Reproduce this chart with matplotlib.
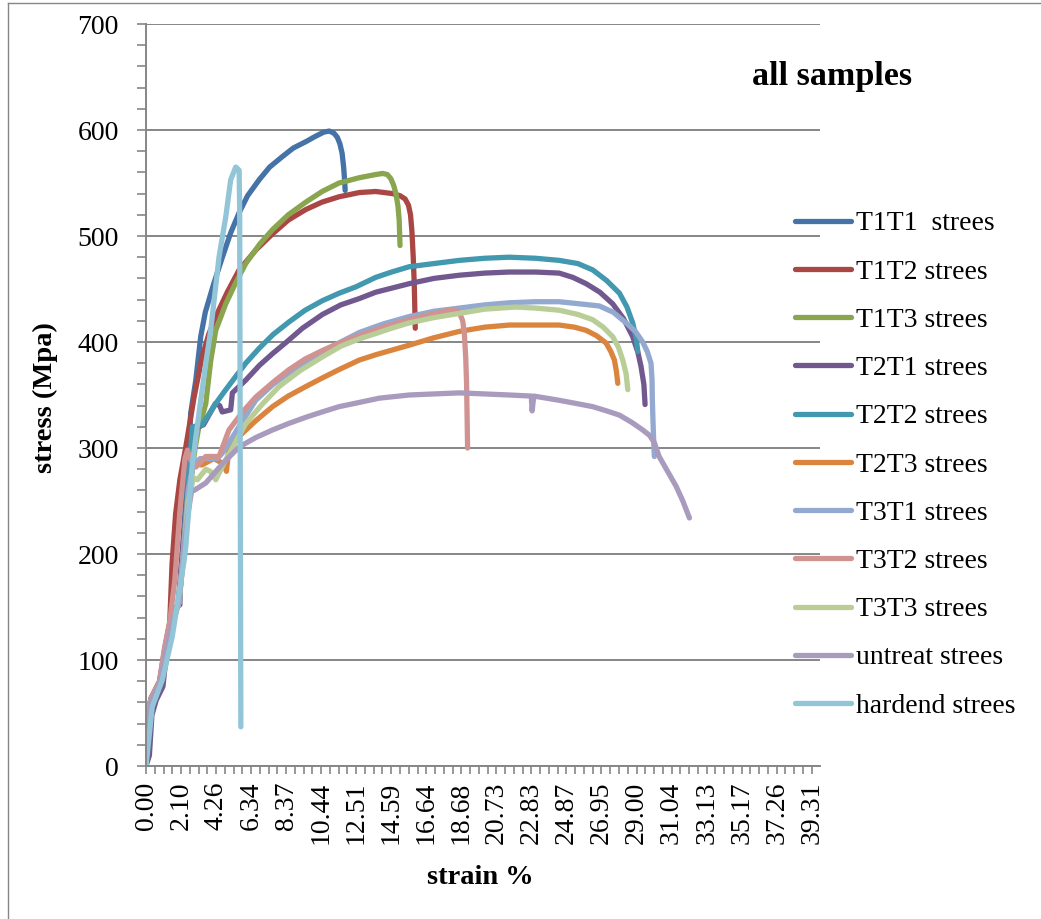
import numpy as np
import matplotlib.pyplot as plt
from matplotlib.lines import Line2D
from matplotlib.ticker import MultipleLocator, FixedLocator

plt.rcParams['font.family'] = ['Liberation Serif', 'DejaVu Serif']

# strain (%) / stress (MPa) readings for each sample
t1t1_strain = [0, 0.1, 0.3, 0.8, 1.2, 1.5, 1.9, 2.1, 2.3, 2.5, 2.64, 2.94, 3.23, 3.5, 4.0, 4.51, 5.0, 5.5,
               6.0, 6.68, 7.3, 8.06, 8.7, 9.44, 10.0, 10.5, 10.82, 11.1, 11.3, 11.45, 11.58, 11.67,
               11.73, 11.76]
t1t1_stress = [0, 45, 62, 78, 110, 130, 155, 190, 240, 290, 333, 364, 405, 428, 455, 480, 503, 522,
               538, 553, 565, 575, 583, 589, 594, 598, 599, 597, 593, 587, 578, 565,
               552, 543]

t1t2_strain = [0, 0.1, 0.3, 0.8, 1.1, 1.4, 1.54, 1.75, 2.0, 2.35, 2.84, 3.3, 3.7, 4.12, 4.8, 5.5, 6.5,
               7.47, 8.4, 9.44, 10.4, 11.4, 12.6, 13.57, 14.56, 15.0, 15.3, 15.5, 15.62, 15.7, 15.78,
               15.84, 15.9]
t1t2_stress = [0, 50, 64, 80, 110, 135, 191, 238, 270, 301, 348, 385, 407, 424, 447, 468, 487,
               502, 515, 525, 532, 537, 541, 542, 540, 538, 535, 529, 520, 505, 480,
               455, 413]

t1t3_strain = [0, 0.1, 0.3, 0.8, 1.2, 1.5, 1.95, 2.2, 2.5, 2.9, 3.1, 3.33, 3.53, 3.82, 4.12, 4.71, 5.3,
               5.89, 6.7, 7.47, 8.4, 9.44, 10.4, 11.4, 12.6, 13.57, 13.97, 14.25, 14.46, 14.62, 14.76,
               14.88, 14.95, 15.0]
t1t3_stress = [0, 48, 63, 78, 112, 133, 155, 195, 250, 300, 318, 330, 342, 382, 411, 436, 456,
               474, 492, 506, 520, 532, 542, 550, 555, 558, 559, 558, 554, 548, 540,
               528, 515, 491]

t2t1_strain = [0, 0.2, 0.35, 0.6, 1.0, 1.1, 1.4, 1.8, 2.0, 2.05, 2.3, 2.6, 2.8, 3.4, 4.1, 4.35, 4.5, 5.0,
               5.1, 5.89, 6.7, 7.47, 8.3, 9.24, 10.42, 11.5, 12.6, 13.57, 15.54, 17.0, 18.5, 20.0,
               21.45, 23.0, 24.4, 25.2, 25.99, 26.8, 27.56, 28.2, 28.74, 29.05, 29.23, 29.4, 29.47]
t2t1_stress = [0, 10, 48, 62, 75, 90, 120, 150, 152, 185, 230, 280, 318, 322, 342, 340, 334, 336,
               352, 364, 378, 389, 400, 413, 426, 435, 441, 447, 455, 460, 463, 465,
               466, 466, 465, 461, 455, 447, 436, 422, 405, 390, 377, 360, 341]

t2t2_strain = [0, 0.1, 0.3, 0.8, 1.2, 1.5, 1.95, 2.2, 2.5, 2.74, 3.33, 4.12, 4.71, 5.89, 6.68, 7.5,
               8.45, 9.4, 10.42, 11.4, 12.39, 13.57, 14.5, 15.54, 17.0, 18.5, 20.0, 21.45, 23.0,
               24.4, 25.5, 26.38, 27.2, 27.96, 28.4, 28.74, 28.95, 29.04]
t2t2_stress = [0, 47, 63, 77, 110, 132, 155, 200, 270, 320, 322, 342, 355, 380, 394, 407,
               419, 430, 439, 446, 452, 461, 466, 471, 474, 477, 479, 480, 479,
               477, 474, 468, 458, 446, 433, 418, 403, 391]

t2t3_strain = [0, 0.1, 0.3, 0.8, 1.2, 1.5, 1.95, 2.2, 2.5, 2.8, 3.3, 4.0, 4.6, 4.75, 4.9, 5.5, 6.5,
               7.47, 8.4, 9.44, 10.4, 11.4, 12.6, 13.57, 15.54, 17.0, 18.5, 20.0, 21.45, 23.0,
               24.4, 25.3, 25.99, 26.6, 27.17, 27.45, 27.66, 27.78, 27.86]
t2t3_stress = [0, 48, 64, 79, 113, 134, 156, 200, 260, 285, 284, 290, 285, 278, 300, 311, 326,
               339, 349, 358, 366, 374, 383, 388, 397, 404, 410, 414, 416, 416,
               416, 414, 411, 406, 399, 391, 383, 372, 361]

t3t1_strain = [0, 0.1, 0.3, 0.8, 1.2, 1.5, 1.95, 2.2, 2.5, 2.8, 3.2, 3.53, 4.2, 4.5, 5.1, 5.8, 6.48,
               7.5, 8.45, 9.4, 10.42, 11.5, 12.6, 14.0, 15.54, 17.0, 18.5, 20.0, 21.45, 23.0, 24.4,
               25.6, 26.77, 27.6, 28.35, 28.9, 29.33, 29.6, 29.82, 29.88, 29.9, 29.95, 30.0, 30.02]
t3t1_stress = [0, 45, 62, 77, 111, 132, 155, 200, 260, 285, 290, 290, 290, 295, 310, 328, 345,
               360, 371, 381, 390, 400, 409, 417, 424, 429, 432, 435, 437, 438, 438,
               436, 434, 428, 418, 410, 400, 391, 380, 365, 345, 320, 298, 292]

t3t2_strain = [0, 0.1, 0.3, 0.8, 1.1, 1.4, 1.7, 2.0, 2.3, 2.45, 2.6, 2.94, 3.53, 4.31, 4.9, 5.7, 6.48,
               7.5, 8.45, 9.4, 10.42, 11.4, 12.39, 14.0, 15.54, 16.8, 17.9, 18.3, 18.5, 18.7, 18.8,
               18.88, 18.93, 18.99]
t3t2_stress = [0, 50, 64, 80, 112, 136, 175, 240, 290, 298, 290, 282, 292, 292, 317, 334, 348,
               362, 374, 384, 392, 399, 405, 414, 421, 426, 430, 430, 428, 420, 408,
               385, 361, 300]

t3t3_strain = [0, 0.1, 0.3, 0.8, 1.2, 1.5, 1.95, 2.2, 2.5, 2.8, 3.03, 3.53, 3.8, 4.12, 4.71, 5.3, 5.89,
               6.9, 7.86, 9.1, 10.42, 11.5, 12.6, 13.38, 14.5, 15.54, 17.0, 18.5, 20.0, 21.85, 23.0,
               24.4, 25.5, 26.38, 27.0, 27.56, 27.9, 28.15, 28.35, 28.45]
t3t3_stress = [0, 46, 62, 76, 110, 131, 154, 195, 250, 272, 270, 280, 278, 270, 289, 306, 323,
               342, 358, 373, 386, 396, 403, 407, 413, 418, 423, 427, 431, 433, 432,
               430, 426, 421, 414, 405, 395, 383, 370, 355]

untreat_strain = [0, 0.05, 0.1, 0.3, 0.8, 1.2, 1.5, 1.95, 2.2, 2.5, 2.7, 2.84, 3.53, 4.51, 5.5, 6.5,
                  7.47, 8.4, 9.44, 10.4, 11.4, 12.6, 13.77, 15.54, 17.0, 18.5, 20.0, 21.45, 22.75,
                  22.8, 22.9, 24.4, 25.4, 26.38, 27.2, 27.96, 28.7, 29.33, 29.73, 30.02, 30.3, 30.8,
                  31.3, 31.7, 32.09]
untreat_stress = [0, 30, 45, 62, 77, 111, 132, 155, 200, 240, 260, 260, 267, 285, 301, 310,
                  317, 323, 329, 334, 339, 343, 347, 350, 351, 352, 351, 350, 349,
                  335, 349, 345, 342, 339, 335, 331, 324, 317, 312, 305, 292, 278,
                  264, 250, 234]

hard_strain = [0, 0.37, 0.96, 1.55, 1.95, 2.25, 2.35, 2.74, 3.13, 3.53, 3.82, 4.31, 4.71, 5.0, 5.3,
               5.5, 5.53, 5.6]
hard_stress = [0, 56, 81, 122, 163, 194, 207, 285, 333, 380, 411, 480, 518, 553, 565,
               562, 525, 37]

labels = ['T1T1  strees', 'T1T2 strees', 'T1T3 strees', 'T2T1 strees', 'T2T2 strees',
          'T2T3 strees', 'T3T1 strees', 'T3T2 strees', 'T3T3 strees', 'untreat strees',
          'hardend strees']
colors = ['#4572A7', '#AA4643', '#89A54E', '#71588F', '#4198AF', '#DB843D',
          '#93A9CF', '#D19392', '#B9CD96', '#A99BBD', '#92C5D8']

xtick_labels = ['0.00', '2.10', '4.26', '6.34', '8.37', '10.44', '12.51', '14.59', '16.64', '18.68',
                '20.73', '22.83', '24.87', '26.95', '29.00', '31.04', '33.13', '35.17', '37.26', '39.31']

series = [(t1t1_strain, t1t1_stress), (t1t2_strain, t1t2_stress), (t1t3_strain, t1t3_stress),
          (t2t1_strain, t2t1_stress), (t2t2_strain, t2t2_stress), (t2t3_strain, t2t3_stress),
          (t3t1_strain, t3t1_stress), (t3t2_strain, t3t2_stress), (t3t3_strain, t3t3_stress),
          (untreat_strain, untreat_stress), (hard_strain, hard_stress)]

W, H = 1041, 919
fig = plt.figure(figsize=(W / 100, H / 100), dpi=100)
ax = fig.add_axes([146 / W, 1 - 766 / H, (820 - 146) / W, (766 - 24) / H])

grid_c = '#868686'
for (x, y), lab, c in zip(series, labels, colors):
    ax.plot(x, y, color=c, lw=3.8, label=lab, solid_capstyle='round', solid_joinstyle='round')

ax.set_ylim(0, 700)
ax.set_xlim(0, 39.8)
ax.yaxis.set_major_locator(MultipleLocator(100))
ax.yaxis.set_minor_locator(MultipleLocator(20))
step = 39.31 / 19
ax.xaxis.set_major_locator(FixedLocator(np.arange(20) * step))
ax.xaxis.set_minor_locator(FixedLocator(np.arange(78) * step / 4))
ax.set_xticklabels(xtick_labels, rotation=90)

ax.grid(axis='y', color=grid_c, lw=1.4)
ax.set_axisbelow(True)
for s in ['top', 'right']:
    ax.spines[s].set_visible(False)
for s in ['left', 'bottom']:
    ax.spines[s].set_color(grid_c)
    ax.spines[s].set_linewidth(1.4)

ax.tick_params(axis='y', which='both', direction='out', length=6.5, width=1.2, color=grid_c,
               labelsize=20, pad=13)
ax.tick_params(axis='x', which='both', direction='out', length=5.5, width=1.2, color=grid_c,
               labelsize=20, pad=6)

fig.text(45 / W, 1 - 398 / H, 'stress (Mpa)', rotation=90, ha='center', va='center',
         fontsize=20.5, fontweight='bold')
fig.text(480 / W, 1 - 878 / H, 'strain %', ha='center', va='center',
         fontsize=20.5, fontweight='bold')
fig.text(832 / W, 1 - 77 / H, 'all samples', ha='center', va='center',
         fontsize=24.5, fontweight='bold')

ax.legend(loc='upper left', bbox_to_anchor=(795 / W, 1 - 211 / H), bbox_transform=fig.transFigure,
          frameon=False, fontsize=20, handlelength=2.0, handletextpad=0.2, labelspacing=0.82,
          borderpad=0, borderaxespad=0)

# chart area border (left and top edges)
fig.add_artist(Line2D([8 / W, 8 / W], [0, 1 - 3 / H], transform=fig.transFigure, color=grid_c, lw=1))
fig.add_artist(Line2D([8 / W, 1], [1 - 3 / H, 1 - 3 / H], transform=fig.transFigure, color=grid_c, lw=1))

fig.savefig('out.png', dpi=100)
